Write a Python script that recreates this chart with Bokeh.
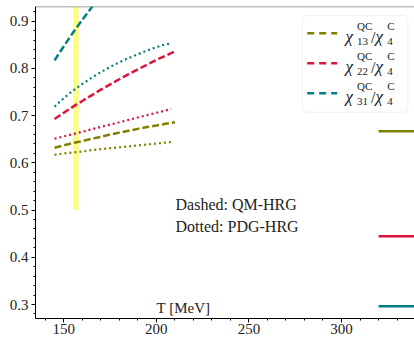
from bokeh.plotting import figure
from bokeh.models import (Label, Span, BoxAnnotation, SingleIntervalTicker, Range1d)
from bokeh.embed import file_html
from bokeh.resources import INLINE

# ---------------- data ----------------
T = [145, 150, 155, 160, 165, 170, 175, 180, 185, 190, 195, 200, 205, 210]

# QM-HRG (dashed)
qm_13 = [0.632, 0.637, 0.642, 0.646, 0.651, 0.655, 0.660, 0.664, 0.668, 0.672, 0.676, 0.679, 0.683, 0.686]
qm_22 = [0.693, 0.706, 0.719, 0.731, 0.743, 0.755, 0.766, 0.777, 0.788, 0.798, 0.808, 0.818, 0.827, 0.836]
T_qm31 = [145, 150, 155, 160, 165, 170]
qm_31 = [0.817, 0.847, 0.876, 0.903, 0.929, 0.953]

# PDG-HRG (dotted)
T_pdg = [145, 150, 155, 160, 165, 170, 175, 180, 185, 190, 195, 200, 205, 208]
pdg_13 = [0.617, 0.620, 0.622, 0.624, 0.627, 0.629, 0.631, 0.633, 0.635, 0.637, 0.639, 0.641, 0.643, 0.644]
pdg_22 = [0.651, 0.656, 0.661, 0.666, 0.671, 0.676, 0.681, 0.686, 0.691, 0.696, 0.701, 0.706, 0.711, 0.714]
pdg_31 = [0.719, 0.737, 0.753, 0.767, 0.780, 0.792, 0.803, 0.813, 0.822, 0.830, 0.838, 0.845, 0.851, 0.853]

# Stefan-Boltzmann limits (solid, high T)
sb_T = [320, 360]
sb_limits = [2 / 3, 4 / 9, 8 / 27]

# pseudo-critical temperature band
Tpc = 156.5
dTpc = 1.5
band_bottom = 0.5

colors = ["#808000", "#DC143C", "#008080"]
legend_sub = ["13", "22", "31"]

# ---------------- geometry ----------------
W, H = 414, 339
FL, FR, FT, FB = 35, 414, 6, 318
X0, X1 = 134.71, 339.43
Y0, Y1 = 0.2704, 0.9311


def dx(px):
    return X0 + (px - FL) * (X1 - X0) / (FR - FL)


def dy(py):
    return Y1 - (py - FT) * (Y1 - Y0) / (FB - FT)


FONT = "Liberation Serif"

p = figure(width=W, height=H, output_backend="svg", toolbar_location=None,
           x_range=Range1d(X0, X1), y_range=Range1d(Y0, Y1),
           min_border_left=FL, min_border_right=0, min_border_top=FT,
           min_border_bottom=H - FB)
p.outline_line_color = None
p.grid.visible = False
p.background_fill_color = "white"
p.border_fill_color = "white"

p.xaxis.ticker = SingleIntervalTicker(interval=50, num_minor_ticks=5)
p.yaxis.ticker = SingleIntervalTicker(interval=0.1, num_minor_ticks=5)
for ax in (p.xaxis[0], p.yaxis[0]):
    ax.axis_line_color = "black"
    ax.major_tick_line_color = "black"
    ax.minor_tick_line_color = "black"
    ax.major_tick_out = 4
    ax.major_tick_in = 0
    ax.minor_tick_out = 2
    ax.minor_tick_in = 0
    ax.major_label_text_font = FONT
    ax.major_label_text_font_size = "15px"
    ax.major_label_text_color = "#222222"
p.xaxis.major_label_standoff = 1
p.yaxis.major_label_standoff = 3

# top spine
p.add_layout(Span(location=Y1, dimension="width", line_color="#808080", line_width=1.5))

# T_pc band
p.quad(left=[Tpc - dTpc], right=[Tpc + dTpc], bottom=[band_bottom], top=[Y1 + 1],
       fill_color="yellow", fill_alpha=0.5, line_color=None)

# curves
p.line(T, qm_13, line_color=colors[0], line_width=2.5, line_dash="7 3")
p.line(T, qm_22, line_color=colors[1], line_width=2.5, line_dash="7 3")
p.line(T_qm31, qm_31, line_color=colors[2], line_width=2.5, line_dash="7 3")
p.line(T_pdg, pdg_13, line_color=colors[0], line_width=2.2, line_dash="2 3")
p.line(T_pdg, pdg_22, line_color=colors[1], line_width=2.2, line_dash="2 3")
p.line(T_pdg, pdg_31, line_color=colors[2], line_width=2.2, line_dash="2 3")

for lim, c in zip(sb_limits, colors):
    p.line(sb_T, [lim, lim], line_color=c, line_width=2.5)


# annotations (py = pixel baseline; Bokeh's alphabetic placement sits ~0.375em low)
def add_text(txt, px, py, size, style="normal", color="#222222"):
    py_eff = py - 0.375 * size
    p.add_layout(Label(x=dx(px), y=dy(py_eff), text=txt, text_font=FONT,
                       text_font_size=f"{size}px", text_font_style=style,
                       text_color=color, text_baseline="alphabetic",
                       text_align="left"))


add_text("Dashed: QM-HRG", 175, 210, 16)
add_text("Dotted: PDG-HRG", 175, 232, 16)
add_text("T [MeV]", 156, 313, 15)

# legend
p.add_layout(BoxAnnotation(left=dx(301.7), right=dx(407.3), top=dy(15), bottom=dy(111.7),
                           fill_color="white", fill_alpha=0.85, line_color="#cccccc",
                           line_width=1, border_radius=4, level="underlay"))
for i, (c, sub) in enumerate(zip(colors, legend_sub)):
    cy = 32.7 + 30 * i
    p.line([dx(306.7), dx(336.7)], [dy(cy), dy(cy)], line_color=c, line_width=2.5,
           line_dash="7 5")
    add_text("\u03c7", 345, cy + 10, 17, "italic")
    add_text("QC", 356.5, cy - 2.7, 11)
    add_text(sub, 356.5, cy + 12.3, 11)
    add_text("/", 370.5, cy + 10, 16)
    add_text("\u03c7", 375, cy + 10, 17, "italic")
    add_text("C", 386.7, cy - 2.7, 11)
    add_text("4", 386.7, cy + 12.3, 11)

open("out.html", "w").write(file_html(p, INLINE))
